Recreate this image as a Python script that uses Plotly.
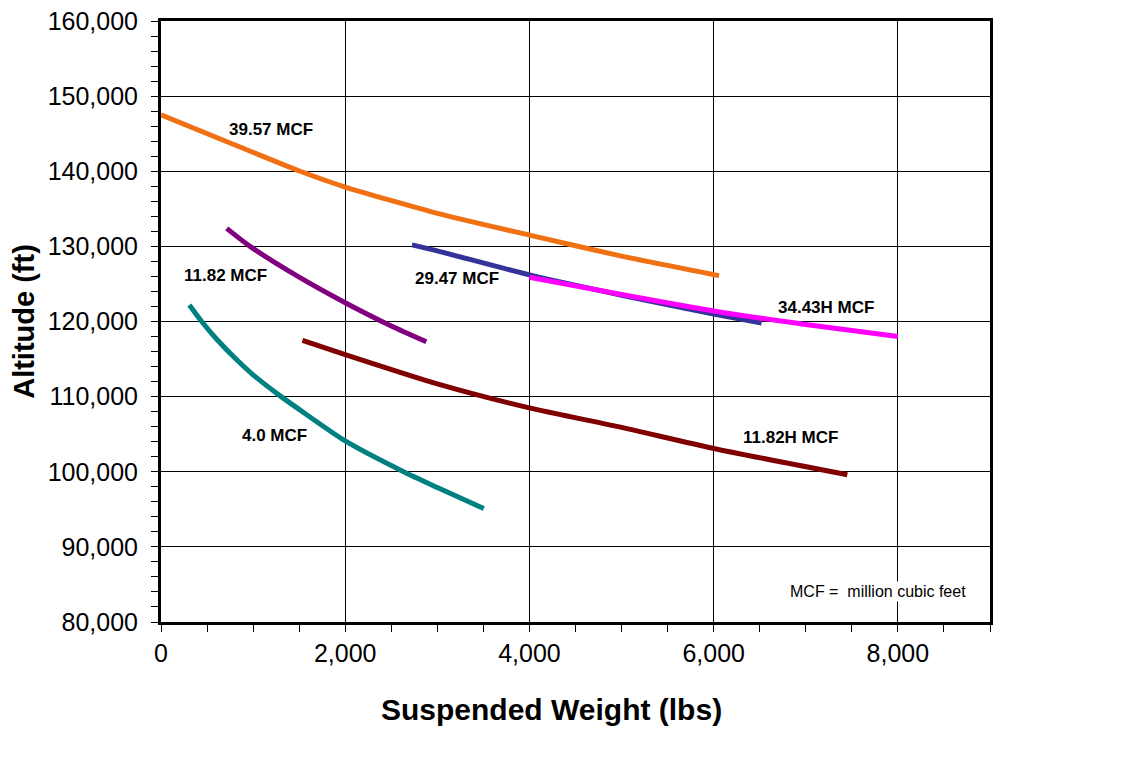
import plotly.graph_objects as go

# ---- data ----
orange_x = [0, 783, 1511, 2000, 3000, 4000, 5000, 6058]
orange_y = [147500, 143600, 140000, 137900, 134400, 131500, 128700, 126100]

purple_x = [713, 967, 1500, 2000, 2500, 2880]
purple_y = [132400, 130000, 125900, 122500, 119400, 117300]

teal_x = [308, 442, 600, 822, 1000, 1293, 1500, 2000, 2634, 3000, 3504]
teal_y = [122200, 120000, 117700, 114900, 112900, 110100, 108300, 104100, 100000, 97900, 95100]

darkred_x = [1536, 2000, 3000, 4000, 5000, 6000, 7451]
darkred_y = [117500, 115600, 111700, 108500, 105900, 103100, 99600]

blue_x = [2725, 3000, 4000, 5000, 6000, 6520]
blue_y = [130200, 129400, 126200, 123500, 121000, 119800]

magenta_x = [4000, 5000, 6000, 7000, 8000]
magenta_y = [125900, 123600, 121400, 119600, 118000]

series = [
    ("39.57 MCF", orange_x, orange_y, "#F07014"),
    ("11.82 MCF", purple_x, purple_y, "#800080"),
    ("4.0 MCF", teal_x, teal_y, "#008080"),
    ("11.82H MCF", darkred_x, darkred_y, "#800000"),
    ("29.47 MCF", blue_x, blue_y, "#333399"),
    ("34.43H MCF", magenta_x, magenta_y, "#FF00FF"),
]

labels = ["39.57 MCF", "11.82 MCF", "29.47 MCF", "34.43H MCF", "11.82H MCF", "4.0 MCF"]
label_x = [1189, 700, 3209, 7221, 6830, 1227]
label_y = [145600, 126100, 125700, 121800, 104500, 104800]

x_tickvals = [0, 2000, 4000, 6000, 8000]
y_tickvals = list(range(80000, 160001, 10000))

FONT = "Arial, Liberation Sans, sans-serif"

fig = go.Figure()
for name, xs, ys, col in series:
    fig.add_trace(go.Scatter(x=xs, y=ys, mode="lines", name=name,
                             line=dict(color=col, width=5, shape="spline", smoothing=0.6),
                             showlegend=False, hoverinfo="skip"))

for t, lx, ly in zip(labels, label_x, label_y):
    fig.add_annotation(x=lx, y=ly, text="<b>" + t + "</b>", showarrow=False,
                       font=dict(family=FONT, size=17, color="black"))

fig.add_annotation(x=7780, y=84000, text="MCF =  million cubic feet", showarrow=False,
                   font=dict(family=FONT, size=16, color="black"), bgcolor="white")

fig.add_annotation(xref="paper", yref="paper", x=0.4705, y=-0.146, yanchor="middle",
                   text="<b>Suspended Weight (lbs)</b>", showarrow=False,
                   font=dict(family=FONT, size=30, color="black"))

fig.update_xaxes(range=[0, 9000], tickvals=x_tickvals, tickformat=",", automargin=False,
                 ticklabeloverflow="allow",
                 showgrid=True, gridcolor="black", gridwidth=1,
                 showline=True, linecolor="black", linewidth=3, mirror=True,
                 ticks="outside", ticklen=7, tickcolor="black", tickwidth=1,
                 minor=dict(dtick=500, ticks="outside", ticklen=7, tickcolor="black", showgrid=False),
                 tickfont=dict(family=FONT, size=25, color="black"), zeroline=False)
fig.update_yaxes(range=[80000, 160000], tickvals=y_tickvals, tickformat=",", automargin=False,
                 ticklabeloverflow="allow", ticklabelstandoff=8,
                 showgrid=True, gridcolor="black", gridwidth=1,
                 showline=True, linecolor="black", linewidth=3, mirror=True,
                 ticks="outside", ticklen=7, tickcolor="black", tickwidth=1,
                 minor=dict(dtick=2000, ticks="outside", ticklen=7, tickcolor="black", showgrid=False),
                 tickfont=dict(family=FONT, size=25, color="black"), zeroline=False,
                 title=dict(text="<b>Altitude (ft)</b>", font=dict(family=FONT, size=29, color="black"),
                            standoff=8))

fig.update_layout(width=1128, height=768, autosize=False,
                  margin=dict(l=153, r=146, t=13, b=154, autoexpand=False),
                  paper_bgcolor="white", plot_bgcolor="white")

fig.write_html("out.html")
